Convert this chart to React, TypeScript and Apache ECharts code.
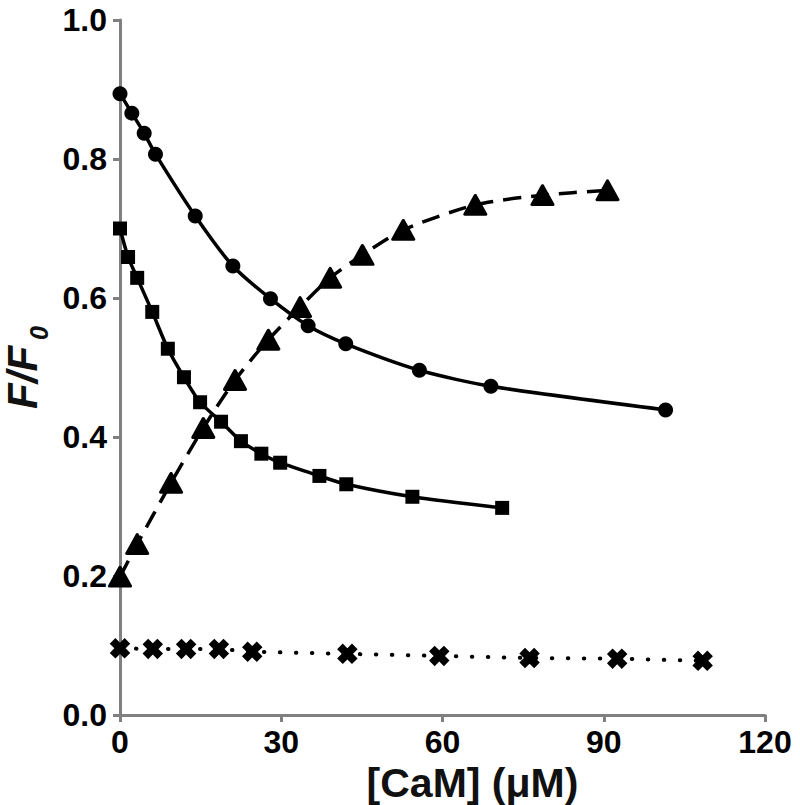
import React, { useEffect, useRef } from "react";
import * as echarts from "echarts";

const xTicks = [0, 30, 60, 90, 120];
const yTicks = [0, 0.2, 0.4, 0.6, 0.8, 1.0];

const circleData: [number, number][] = [
  [0, 0.894], [2.2, 0.866], [4.5, 0.837], [6.6, 0.807], [14, 0.718], [21, 0.646],
  [28, 0.599], [35, 0.56], [42, 0.534], [55.7, 0.496], [69, 0.473], [101.5, 0.439],
];
const squareData: [number, number][] = [
  [0, 0.7], [1.5, 0.659], [3.2, 0.629], [6, 0.58], [8.9, 0.527], [11.9, 0.486],
  [14.9, 0.45], [18.8, 0.422], [22.5, 0.394], [26.3, 0.376], [29.8, 0.363],
  [37.1, 0.344], [42.1, 0.332], [54.4, 0.314], [71.1, 0.298],
];
const triangleData: [number, number][] = [
  [0, 0.199], [3.2, 0.246], [9.5, 0.334], [15.5, 0.413], [21.4, 0.482], [27.6, 0.54],
  [33.5, 0.587], [39.1, 0.629], [45.1, 0.662], [52.7, 0.698], [66.1, 0.734],
  [78.6, 0.748], [90.7, 0.755],
];
const crossData: [number, number][] = [
  [0, 0.096], [6.1, 0.095], [12.3, 0.095], [18.4, 0.095], [24.6, 0.091],
  [42.3, 0.088], [59.4, 0.085], [76.2, 0.082], [92.5, 0.081], [108.4, 0.078],
];

const FONT = "'Liberation Sans', Arial, sans-serif";
const AXIS_GRAY = "#808080";
const CROSS_PATH = "path://M31,0H69V31H100V69H69V100H31V69H0V31H31Z";

export default function App() {
  const ref = useRef<HTMLDivElement>(null);
  useEffect(() => {
    document.body.style.margin = "0";
    if (!ref.current) return;
    const chart = echarts.init(ref.current, null, { renderer: "svg" });
    const axisCommon = {
      axisLine: { show: true, lineStyle: { color: AXIS_GRAY, width: 3 } },
      axisTick: { show: true, length: 7, lineStyle: { color: AXIS_GRAY, width: 3 } },
      splitLine: { show: false },
    };
    chart.setOption({
      animation: false,
      backgroundColor: "#ffffff",
      grid: { left: 120, right: 35, top: 20, bottom: 90, containLabel: false, outerBoundsMode: "none" },
      xAxis: {
        type: "value",
        min: xTicks[0],
        max: xTicks[xTicks.length - 1],
        interval: 30,
        ...axisCommon,
        axisLabel: {
          margin: 11,
          color: "#000",
          fontFamily: FONT,
          fontWeight: "bold",
          fontSize: 32,
          formatter: (v: number) => String(v),
        },
        name: "[CaM] (μM)",
        nameLocation: "middle",
        nameGap: 42,
        nameTextStyle: {
          color: "#111",
          fontFamily: FONT,
          fontWeight: "bold",
          fontSize: 41,
          padding: [0, 0, 0, 60],
        },
      },
      yAxis: {
        type: "value",
        min: yTicks[0],
        max: yTicks[yTicks.length - 1],
        interval: 0.2,
        ...axisCommon,
        axisLabel: {
          margin: 13,
          color: "#000",
          fontFamily: FONT,
          fontWeight: "bold",
          fontSize: 32,
          formatter: (v: number) => v.toFixed(1),
        },
        name: "F/F{sub|0}",
        nameLocation: "middle",
        nameGap: 70,
        nameTextStyle: {
          color: "#111",
          fontFamily: FONT,
          fontWeight: "bold",
          fontStyle: "italic",
          fontSize: 42,
          rich: {
            sub: {
              fontFamily: FONT,
              fontWeight: "bold",
              fontStyle: "italic",
              fontSize: 25,
              color: "#111",
              verticalAlign: "bottom",
              padding: [0, 0, -8, 6],
            },
          },
        },
      },
      series: [
        {
          type: "line",
          data: circleData,
          smooth: 0.25,
          symbol: "circle",
          symbolSize: 15,
          showAllSymbol: true,
          lineStyle: { color: "#000", width: 3.5 },
          itemStyle: { color: "#000" },
          z: 3,
        },
        {
          type: "line",
          data: squareData,
          smooth: 0.25,
          symbol: "rect",
          symbolSize: 14,
          showAllSymbol: true,
          lineStyle: { color: "#000", width: 3.5 },
          itemStyle: { color: "#000" },
          z: 3,
        },
        {
          type: "line",
          data: triangleData,
          smooth: 0.25,
          symbol: "triangle",
          symbolSize: [21, 19],
          showAllSymbol: true,
          lineStyle: { color: "#000", width: 3.5, type: [18, 10] },
          itemStyle: { color: "#000", borderColor: "#000", borderWidth: 3, borderJoin: "round" },
          z: 3,
        },
        {
          type: "line",
          data: crossData,
          symbol: CROSS_PATH,
          symbolRotate: 45,
          symbolSize: 21,
          showAllSymbol: true,
          lineStyle: { color: "#000", width: 4, type: [0.5, 15.5], cap: "round" },
          itemStyle: { color: "#000" },
          z: 3,
        },
      ],
    });
    return () => chart.dispose();
  }, []);
  return <div ref={ref} style={{ width: 800, height: 805 }} />;
}
